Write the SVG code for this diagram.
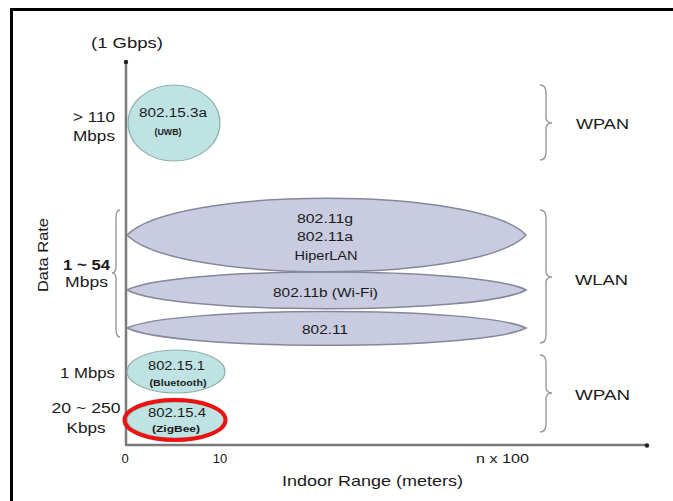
<svg xmlns="http://www.w3.org/2000/svg" width="673" height="501" viewBox="0 0 673 501">
<style>
text{font-family:"Liberation Sans",Arial,sans-serif;fill:#1a1a1a}
.lbl{font-size:15px}
.t{font-size:12px;text-anchor:middle}
.s{font-size:9px;text-anchor:middle;font-weight:bold}
.c{text-anchor:middle}
.pan{fill:#bfe3e3;stroke:#8fb0b0;stroke-width:1.2}
.lan{fill:#c9cbe0;stroke:#85879a;stroke-width:1.5}
.axis{stroke:#7a7a7a;stroke-width:2.5;fill:none}
.brace{stroke:#9a9a9a;stroke-width:1.4;fill:none}
</style>
<rect x="0" y="0" width="673" height="501" fill="#fff"/>
<rect x="11.5" y="9.5" width="700" height="520" fill="#fff" stroke="#000" stroke-width="3"/>

<g id="connectors">
  <line class="axis" x1="126" y1="63" x2="126" y2="445"/>
  <line class="axis" x1="125" y1="445" x2="646" y2="445"/>
  <circle cx="126" cy="62" r="2.2" fill="#222"/>
  <circle cx="647" cy="445.5" r="2.2" fill="#222"/>
  <path class="brace" d="M540,85 Q546,85 546,93 L546,117 Q546,123 552,123 Q546,123 546,129 L546,152 Q546,160 540,160"/>
  <path class="brace" d="M540,210 Q546,210 546,218 L546,271 Q546,277 552,277 Q546,277 546,283 L546,335 Q546,343 540,343"/>
  <path class="brace" d="M540,355 Q546,355 546,363 L546,387 Q546,393 552,393 Q546,393 546,399 L546,424 Q546,432 540,432"/>
  <path class="brace" d="M120,210 Q116,210 116,218 L116,267 Q116,273 112,273 Q116,273 116,279 L116,329 Q116,337 120,337"/>
</g>

<g id="axis-labels">
  <text class="lbl" x="91" y="48" textLength="72" lengthAdjust="spacingAndGlyphs">(1 Gbps)</text>
  <text class="lbl" x="115" y="122" text-anchor="end" textLength="42" lengthAdjust="spacingAndGlyphs">&gt; 110</text>
  <text class="lbl" x="115" y="141" text-anchor="end" textLength="42" lengthAdjust="spacingAndGlyphs">Mbps</text>
  <text class="lbl" x="110" y="270" text-anchor="end" textLength="47" lengthAdjust="spacingAndGlyphs" font-weight="bold">1 ~ 54</text>
  <text class="lbl" x="108" y="287" text-anchor="end" textLength="43" lengthAdjust="spacingAndGlyphs">Mbps</text>
  <text class="lbl" x="115" y="378" text-anchor="end" textLength="55" lengthAdjust="spacingAndGlyphs">1 Mbps</text>
  <text class="lbl" x="86" y="413" text-anchor="middle" textLength="69" lengthAdjust="spacingAndGlyphs">20 ~ 250</text>
  <text class="lbl" x="86" y="433" text-anchor="middle" textLength="39" lengthAdjust="spacingAndGlyphs">Kbps</text>
  <text class="lbl" transform="translate(48,255) rotate(-90)" x="0" y="0" text-anchor="middle" textLength="74" lengthAdjust="spacingAndGlyphs">Data Rate</text>
  <text class="c" x="125" y="463" font-size="13">0</text>
  <text class="c" x="220" y="463" font-size="13">10</text>
  <text x="476" y="463" font-size="12" textLength="53" lengthAdjust="spacingAndGlyphs">n x 100</text>
  <text class="lbl" x="282" y="486" textLength="181" lengthAdjust="spacingAndGlyphs">Indoor Range (meters)</text>
  <text class="lbl" x="576" y="128.5" textLength="53" lengthAdjust="spacingAndGlyphs">WPAN</text>
  <text class="lbl" x="575" y="284.5" textLength="53" lengthAdjust="spacingAndGlyphs">WLAN</text>
  <text class="lbl" x="575" y="399.5" textLength="55" lengthAdjust="spacingAndGlyphs">WPAN</text>
</g>

<g id="uwb">
  <ellipse class="pan" cx="174" cy="123" rx="46" ry="38"/>
  <text class="t" x="173" y="117" textLength="68" lengthAdjust="spacingAndGlyphs">802.15.3a</text>
  <text class="s" x="168" y="135" font-size="8" font-weight="normal" textLength="27" lengthAdjust="spacingAndGlyphs">(UWB)</text>
</g>

<g id="wlan-80211">
  <path class="lan" d="M127,328 C175,306 480,306 526,328 C480,351 175,351 127,328 Z"/>
  <text class="t" x="325" y="334" font-size="11" textLength="46" lengthAdjust="spacingAndGlyphs">802.11</text>
</g>

<g id="wlan-80211b">
  <path class="lan" d="M127,290 C175,266 480,266 526,290 C480,315 175,315 127,290 Z"/>
  <text class="t" x="325.5" y="297" font-size="11" textLength="105" lengthAdjust="spacingAndGlyphs">802.11b (Wi-Fi)</text>
</g>

<g id="wlan-80211g">
  <path class="lan" d="M127,235 C175,186 480,186 526,235 C480,284 175,284 127,235 Z"/>
  <text class="t" x="325" y="223" textLength="56" lengthAdjust="spacingAndGlyphs">802.11g</text>
  <text class="t" x="325" y="241" textLength="56" lengthAdjust="spacingAndGlyphs">802.11a</text>
  <text class="t" x="326" y="260" font-size="11" textLength="63" lengthAdjust="spacingAndGlyphs">HiperLAN</text>
</g>

<g id="bluetooth">
  <ellipse class="pan" cx="176" cy="371.5" rx="49" ry="21.5"/>
  <text class="t" x="176.5" y="369.5" textLength="57" lengthAdjust="spacingAndGlyphs">802.15.1</text>
  <text class="s" x="178" y="385.5" textLength="57" lengthAdjust="spacingAndGlyphs">(Bluetooth)</text>
</g>

<g id="zigbee">
  <ellipse class="pan" cx="176" cy="420" rx="49" ry="18"/>
  <ellipse cx="175" cy="420" rx="50.5" ry="20" fill="none" stroke="#ee1111" stroke-width="4"/>
  <text class="t" x="177" y="416.5" textLength="58" lengthAdjust="spacingAndGlyphs">802.15.4</text>
  <text class="s" x="176" y="432" textLength="48" lengthAdjust="spacingAndGlyphs">(ZigBee)</text>
</g>
</svg>
